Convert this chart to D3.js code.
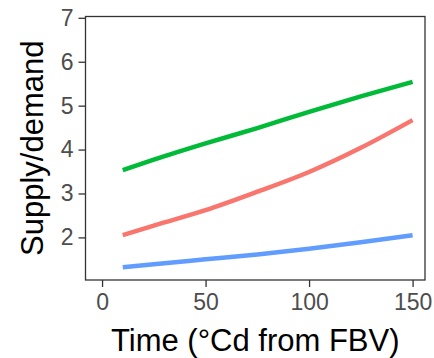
<!DOCTYPE html>
<html lang="en">
<head>
    <meta charset="UTF-8">
    <title>Supply/demand over time</title>
    <script src="https://d3js.org/d3.v7.min.js"></script>
    <style>
        body {
            margin: 0;
            padding: 0;
            background-color: #fff;
        }
        svg text {
            font-family: "Liberation Sans", Arial, sans-serif;
        }
    </style>
</head>
<body>
    <svg id="chart" width="434" height="358"></svg>

    <script>
        // Time (°Cd from FBV)
        const time = [10, 25, 50, 75, 100, 125, 150];

        // Supply/demand for each series
        const redValues = [2.05, 2.27, 2.62, 3.04, 3.49, 4.04, 4.67];
        const greenValues = [3.53, 3.77, 4.14, 4.49, 4.86, 5.21, 5.54];
        const blueValues = [1.32, 1.39, 1.50, 1.61, 1.74, 1.89, 2.05];

        const xTicks = [0, 50, 100, 150];
        const yTicks = [2, 3, 4, 5, 6, 7];

        const series = [
            { name: 'red', values: redValues, color: '#F8766D' },
            { name: 'green', values: greenValues, color: '#00BA38' },
            { name: 'blue', values: blueValues, color: '#619CFF' }
        ];

        const panel = { left: 85.5, right: 425, top: 16.5, bottom: 280 };

        const svg = d3.select('#chart');

        const x = d3.scaleLinear()
            .domain([-8, 156])
            .range([panel.left, panel.right]);

        const y = d3.scaleLinear()
            .domain([1.03, 7.03])
            .range([panel.bottom, panel.top]);

        // Lines
        const line = d3.line()
            .x((d, i) => x(time[i]))
            .y(d => y(d))
            .curve(d3.curveMonotoneX);

        svg.selectAll('.series')
            .data(series)
            .enter()
            .append('path')
            .attr('class', 'series')
            .attr('d', d => line(d.values))
            .attr('fill', 'none')
            .attr('stroke', d => d.color)
            .attr('stroke-width', 4.5)
            .attr('stroke-linecap', 'butt');

        // Panel border
        svg.append('rect')
            .attr('x', panel.left)
            .attr('y', panel.top)
            .attr('width', panel.right - panel.left)
            .attr('height', panel.bottom - panel.top)
            .attr('fill', 'none')
            .attr('stroke', '#333')
            .attr('stroke-width', 1.3);

        // Axes
        const xAxis = svg.append('g')
            .attr('transform', `translate(0,${panel.bottom})`)
            .call(d3.axisBottom(x).tickValues(xTicks).tickFormat(d3.format('d')).tickSize(7).tickPadding(7));

        const yAxis = svg.append('g')
            .attr('transform', `translate(${panel.left},0)`)
            .call(d3.axisLeft(y).tickValues(yTicks).tickFormat(d3.format('d')).tickSize(7).tickPadding(5));

        [xAxis, yAxis].forEach(ax => {
            ax.select('.domain').remove();
            ax.selectAll('.tick line').attr('stroke', '#333').attr('stroke-width', 1.3);
            ax.selectAll('.tick text')
                .attr('fill', '#4D4D4D')
                .style('font-size', '23px');
        });

        // Axis titles
        svg.append('text')
            .attr('x', (panel.left + panel.right) / 2)
            .attr('y', 351)
            .attr('text-anchor', 'middle')
            .attr('fill', '#000')
            .style('font-size', '31px')
            .text('Time (°Cd from FBV)');

        svg.append('text')
            .attr('transform', `translate(43,${(panel.top + panel.bottom) / 2}) rotate(-90)`)
            .attr('text-anchor', 'middle')
            .attr('fill', '#000')
            .style('font-size', '31px')
            .text('Supply/demand');
    </script>
</body>
</html>
